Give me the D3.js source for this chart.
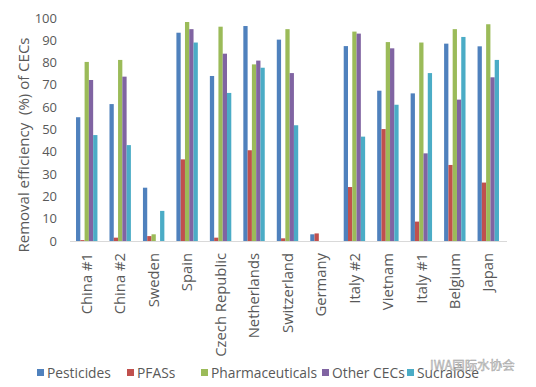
<!DOCTYPE html>
<html lang="en">
<head>
    <meta charset="UTF-8">
    <title>Removal efficiency of CECs</title>
    <script src="https://cdn.jsdelivr.net/npm/d3@7"></script>
    <style>
        body { margin: 0; background: #fff; }
        text { font-family: "Open Sans", "DejaVu Sans", sans-serif; fill: #595959; }
        .axis-title { font-size: 15px; }
        .tick-y { font-size: 13px; }
        .tick-x { font-size: 14.8px; }
        .legend text { font-size: 13.8px; }
    </style>
</head>
<body>
<div id="chart"></div>
<script>
    // categories (x axis) and series
    var countries = ["China #1", "China #2", "Sweden", "Spain", "Czech Republic", "Netherlands",
        "Switzerland", "Germany", "Italy #2", "Vietnam", "Italy #1", "Belgium", "Japan"];
    var seriesNames = ["Pesticides", "PFASs", "Pharmaceuticals", "Other CECs", "Sucralose"];
    var seriesColors = ["#4f81bd", "#c0504d", "#9bbb59", "#8064a2", "#4bacc6"];

    var pesticides      = [55.5, 61.4, 23.9, 93.4, 74.0, 96.4, 90.3, 3.0, 87.4, 67.4, 66.2, 88.5, 87.3];
    var pfass           = [0.4, 1.5, 2.2, 36.6, 1.5, 40.7, 1.2, 3.4, 24.2, 50.2, 8.7, 34.1, 26.2];
    var pharmaceuticals = [80.3, 81.2, 3.0, 98.2, 96.1, 79.2, 95.0, 0, 93.9, 89.2, 89.0, 95.0, 97.2];
    var otherCECs       = [72.2, 73.7, 0, 95.0, 84.0, 80.9, 75.3, 0, 93.0, 86.4, 39.3, 63.4, 73.4];
    var sucralose       = [47.5, 43.0, 13.5, 89.0, 66.4, 77.7, 51.9, 0, 46.8, 61.1, 75.3, 91.5, 81.2];

    var yTicks = [0, 10, 20, 30, 40, 50, 60, 70, 80, 90, 100];

    var seriesValues = [pesticides, pfass, pharmaceuticals, otherCECs, sucralose];

    const W = 536, H = 387;
    const margin = {top: 18, right: 31, bottom: 146, left: 70},
        width = W - margin.left - margin.right,
        height = H - margin.top - margin.bottom;

    const svg = d3.select("#chart").append("svg")
        .attr("width", W)
        .attr("height", H);

    const g = svg.append("g")
        .attr("transform", "translate(" + margin.left + "," + margin.top + ")");

    var x0 = d3.scaleBand().domain(countries).range([0, width]).paddingInner(0.36).paddingOuter(0.18);
    var x1 = d3.scaleBand().domain(seriesNames).range([0, x0.bandwidth()]);
    var y = d3.scaleLinear().domain([0, 100]).range([height, 0]);

    // y axis labels (no line)
    g.append("g")
        .selectAll("text")
        .data(yTicks)
        .enter().append("text")
        .attr("class", "tick-y")
        .attr("x", -13)
        .attr("y", d => y(d))
        .attr("dy", "0.35em")
        .style("text-anchor", "end")
        .text(d => d);

    // bars
    var groups = g.selectAll("g.group")
        .data(countries)
        .enter().append("g")
        .attr("class", "group")
        .attr("transform", d => "translate(" + x0(d) + ",0)");

    groups.selectAll("rect")
        .data((c, i) => seriesNames.map((s, j) => ({s: s, j: j, v: seriesValues[j][i]})))
        .enter().append("rect")
        .attr("x", d => x1(d.s))
        .attr("width", x1.bandwidth())
        .attr("y", d => y(d.v))
        .attr("height", d => height - y(d.v))
        .attr("fill", d => seriesColors[d.j]);

    // x axis line
    g.append("line")
        .attr("x1", 0).attr("x2", width + 2)
        .attr("y1", height + 0.5).attr("y2", height + 0.5)
        .attr("stroke", "#d9d9d9");

    // x labels
    g.selectAll("text.tick-x")
        .data(countries)
        .enter().append("text")
        .attr("class", "tick-x")
        .attr("transform", d => "translate(" + (x0(d) + x0.bandwidth() / 2) + "," + (height + 12) + ") rotate(-90)")
        .attr("dy", "0.35em")
        .style("text-anchor", "end")
        .text(d => d);

    // y axis title
    svg.append("text")
        .attr("class", "axis-title")
        .attr("transform", "translate(24," + 145 + ") rotate(-90)")
        .attr("dy", "0.35em")
        .style("text-anchor", "middle")
        .style("white-space", "pre")
        .text("Removal efficiency  (%) of CECs");

    // legend
    var legendX = [37, 127, 201, 322, 407];
    var legend = svg.append("g").attr("class", "legend");
    seriesNames.forEach(function (s, i) {
        legend.append("rect")
            .attr("x", legendX[i]).attr("y", 369)
            .attr("width", 7).attr("height", 7)
            .attr("fill", seriesColors[i]);
        legend.append("text")
            .attr("x", legendX[i] + 10).attr("y", 373)
            .attr("dy", "0.35em")
            .text(s);
    });

    // watermark
    svg.append("text")
        .attr("x", 430).attr("y", 366)
        .attr("dy", "0.35em")
        .style("font-family", "'Noto Sans CJK SC', sans-serif")
        .style("font-size", "12.5px")
        .style("fill", "#d6d6d6")
        .style("stroke", "#9a9a9a")
        .style("stroke-width", 0.4)
        .text("IWA国际水协会");
</script>
</body>
</html>
